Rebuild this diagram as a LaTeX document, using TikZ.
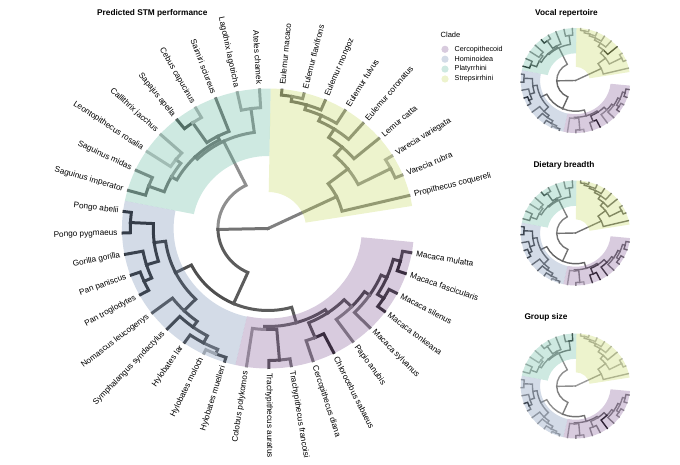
\documentclass[tikz,border=0pt]{standalone}
\usepackage{fontspec}
\setmainfont{Liberation Sans}

% legend keys (as they look over white)
\definecolor{cerco}{RGB}{216,203,222}
\definecolor{homin}{RGB}{211,219,231}
\definecolor{platy}{RGB}{206,233,225}
\definecolor{strep}{RGB}{237,243,205}
% highlight colours, laid over the branches
\definecolor{cercohl}{RGB}{125,82,145}
\definecolor{hominhl}{RGB}{108,135,175}
\definecolor{platyhl}{RGB}{92,182,155}
\definecolor{strephl}{RGB}{195,215,88}

\tikzset{
    branch/.style={line cap=rect, line join=miter},
    hilight/.style={fill opacity=0.3},
    tiplab/.style={font=\fontsize{8.2}{9}\selectfont, inner sep=1pt},
    paneltitle/.style={font=\fontsize{8.3}{10}\selectfont\bfseries, inner sep=0pt, anchor=base west},
    legtxt/.style={font=\fontsize{7.2}{8}\selectfont, inner sep=0.5pt, anchor=west},
    legdot/.style={circle, minimum size=7.2pt, inner sep=0pt}
}

% angle of a tip (or node) position
\newcommand{\tang}[1]{-10-8.85*(#1)}
% id, parent radius, parent position, radius, position
\newcommand{\brn}[5]{%
    \pgfmathtruncatemacro{\brpct}{100*\opv[#1]}%
    \draw[branch, draw=black!\brpct] ({\tang{#3}}:#2pt) arc[start angle={\tang{#3}}, end angle={\tang{#5}}, radius=#2pt] -- ({\tang{#5}}:#4pt);%
}
\newcommand{\rootbrn}[3]{%
    \pgfmathtruncatemacro{\brpct}{100*\opv[#1]}%
    \draw[branch, draw=black!\brpct] (0,0) -- ({\tang{#3}}:#2pt);%
}
\newcommand{\cladesector}[5]{%
    \fill[hilight, #1] ({\tang{#2}}:#4pt) arc[start angle={\tang{#2}}, end angle={\tang{#3}}, radius=#4pt]
        -- ({\tang{#3}}:#5pt) arc[start angle={\tang{#3}}, end angle={\tang{#2}}, radius=#5pt] -- cycle;%
}

% branch shading for each panel
\def\opmain{{0,%
0.5,0.5,0.5,0.45,0.35,0.45,0.5,0.5,0.55,0.5,0.55,0.5,0.55,0.55,0.6,0.65,0.5,%
0.55,0.45,0.45,0.35,0.35,0.5,0.5,0.55,0.6,0.5,0.4,0.25,0.3,0.55,0.55,0.7,0.3,0.55,%
0.65,0.7,0.75,0.75,0.7,0.6,0.75,0.3,0.75,0.8,0.7,0.8,0.85,0.85,0.85,0.85,0.85,0.9,0.9,0.9,%
0.65,0.7,0.7,0.75,0.75,0.8,0.75,0.9,0.8,0.8,0.85,0.55,0.5,0.7,0.9,0.55,0.6,0.65,0.55,0.7,0.4}}
\def\opvocal{{0,%
0.5,0.4,0.45,0.4,0.35,0.4,0.45,0.8,0.45,0.4,0.4,0.4,0.4,0.35,0.4,0.4,0.35,%
0.55,0.5,0.5,0.45,0.45,0.55,0.6,0.7,0.9,0.6,0.5,0.45,0.5,0.55,0.6,0.85,0.5,0.5,%
0.6,0.6,0.6,0.6,0.55,0.5,0.6,0.4,0.6,0.6,0.55,0.65,0.7,0.75,0.7,0.95,0.6,0.65,0.7,0.6,%
0.55,0.55,0.55,0.55,0.55,0.55,0.6,0.6,0.5,0.45,0.6,0.45,0.4,0.7,0.95,0.5,0.5,0.4,0.3,0.4,0.3}}
\def\opdiet{{0,%
0.55,0.6,0.6,0.6,0.55,0.6,0.6,0.6,0.6,0.55,0.6,0.6,0.6,0.55,0.6,0.6,0.55,%
0.55,0.5,0.5,0.45,0.5,0.5,0.5,0.5,0.55,0.5,0.45,0.4,0.45,0.55,0.6,0.75,0.5,0.5,%
0.55,0.6,0.6,0.6,0.6,0.55,0.6,0.45,0.6,0.65,0.6,0.65,0.7,0.75,0.8,0.8,0.7,0.75,0.85,0.8,%
0.6,0.65,0.65,0.6,0.6,0.55,0.55,0.6,0.55,0.6,0.6,0.55,0.8,0.8,0.95,0.85,0.55,0.5,0.3,0.45,0.35}}
\def\opgroup{{0,%
0.4,0.35,0.35,0.3,0.3,0.3,0.35,0.35,0.35,0.3,0.35,0.3,0.35,0.3,0.35,0.3,0.3,%
0.45,0.45,0.55,0.5,0.8,0.45,0.4,0.4,0.35,0.35,0.35,0.3,0.3,0.45,0.45,0.4,0.4,0.45,%
0.5,0.45,0.4,0.4,0.4,0.35,0.4,0.3,0.35,0.35,0.4,0.5,0.5,0.55,0.5,0.85,0.45,0.45,0.4,0.4,%
0.55,0.55,0.6,0.5,0.5,0.45,0.5,0.45,0.45,0.45,0.45,0.5,0.95,0.45,0.5,0.45,0.5,0.45,0.35,0.45,0.4}}

\newcommand{\primtree}{%
    % Strepsirrhini
    \rootbrn{1}{73}{36.63}
    \brn{2}{73}{36.63}{139}{38}
    \brn{3}{73}{36.63}{97}{35.27}
    \brn{4}{97}{35.27}{132}{36.5}
    \brn{5}{132}{36.5}{139}{36}
    \brn{6}{132}{36.5}{139}{37}
    \brn{7}{97}{35.27}{108}{34.03}
    \brn{8}{108}{34.03}{139}{35}
    \brn{9}{108}{34.03}{118}{33.06}
    \brn{10}{118}{33.06}{139}{34}
    \brn{11}{118}{33.06}{124}{32.125}
    \brn{12}{124}{32.125}{139}{33}
    \brn{13}{124}{32.125}{129}{31.25}
    \brn{14}{129}{31.25}{139}{32}
    \brn{15}{129}{31.25}{134}{30.5}
    \brn{16}{134}{30.5}{139}{30}
    \brn{17}{134}{30.5}{139}{31}
    % Platyrrhini
    \rootbrn{18}{48}{19.08}
    \brn{19}{48}{19.08}{97}{26.44}
    \brn{20}{97}{26.44}{121}{28.5}
    \brn{21}{121}{28.5}{139}{28}
    \brn{22}{121}{28.5}{139}{29}
    \brn{23}{97}{26.44}{100}{24.375}
    \brn{24}{100}{24.375}{106}{22.5}
    \brn{25}{106}{22.5}{122}{21.5}
    \brn{26}{122}{21.5}{139}{21}
    \brn{27}{122}{21.5}{139}{22}
    \brn{28}{106}{22.5}{112}{23.5}
    \brn{29}{112}{23.5}{139}{23}
    \brn{30}{112}{23.5}{139}{24}
    \brn{31}{100}{24.375}{104}{26.25}
    \brn{32}{104}{26.25}{128}{25.5}
    \brn{33}{128}{25.5}{139}{25}
    \brn{34}{128}{25.5}{139}{26}
    \brn{35}{104}{26.25}{139}{27}
    % Hominoidea
    \brn{36}{48}{19.08}{82}{11.72}
    \brn{37}{82}{11.72}{99}{16.22}
    \brn{38}{99}{16.22}{115}{14.06}
    \brn{39}{115}{14.06}{122}{13.125}
    \brn{40}{122}{13.125}{130}{12.25}
    \brn{41}{130}{12.25}{135}{11.5}
    \brn{42}{135}{11.5}{139}{11}
    \brn{43}{135}{11.5}{139}{12}
    \brn{44}{130}{12.25}{139}{13}
    \brn{45}{122}{13.125}{139}{14}
    \brn{46}{115}{14.06}{139}{15}
    \brn{47}{99}{16.22}{110}{18.375}
    \brn{48}{110}{18.375}{122}{17.25}
    \brn{49}{122}{17.25}{130}{16.5}
    \brn{50}{130}{16.5}{139}{16}
    \brn{51}{130}{16.5}{139}{17}
    \brn{52}{122}{17.25}{139}{18}
    \brn{53}{110}{18.375}{132}{19.5}
    \brn{54}{132}{19.5}{139}{19}
    \brn{55}{132}{19.5}{139}{20}
    % Cercopithecoid
    \brn{56}{82}{11.72}{98}{7.22}
    \brn{57}{98}{7.22}{102}{5.19}
    \brn{58}{102}{5.19}{112}{3.875}
    \brn{59}{112}{3.875}{118}{2.75}
    \brn{60}{118}{2.75}{124}{1.5}
    \brn{61}{124}{1.5}{131}{0.5}
    \brn{62}{131}{0.5}{139}{0}
    \brn{63}{131}{0.5}{139}{1}
    \brn{64}{124}{1.5}{131}{2.5}
    \brn{65}{131}{2.5}{139}{2}
    \brn{66}{131}{2.5}{139}{3}
    \brn{67}{118}{2.75}{139}{4}
    \brn{68}{112}{3.875}{139}{5}
    \brn{69}{102}{5.19}{118}{6.5}
    \brn{70}{118}{6.5}{139}{6}
    \brn{71}{118}{6.5}{139}{7}
    \brn{72}{98}{7.22}{101}{9.25}
    \brn{73}{101}{9.25}{132}{8.5}
    \brn{74}{132}{8.5}{139}{8}
    \brn{75}{132}{8.5}{139}{9}
    \brn{76}{101}{9.25}{139}{10}
    % clade highlights over the branches
    \cladesector{cercohl}{-0.5}{10.5}{90}{140}
    \cladesector{hominhl}{10.5}{20.5}{90.5}{140}
    \cladesector{platyhl}{20.5}{29.5}{72.5}{140}
    \cladesector{strephl}{29.5}{38.5}{36.5}{140}%
}

\begin{document}
\begin{tikzpicture}[x=1pt, y=1pt]
    \useasboundingbox (0,0) rectangle (680,-465);

    % main tree
    \node[paneltitle] (ttlstm) at (97,-15.5) {Predicted STM performance};
    \begin{scope}[shift={(268,-228.5)}, xscale=1.043, line width=3pt]
        \let\opv\opmain
        \primtree
        \foreach \i/\sp in {0/Macaca mulatta, 1/Macaca fascicularis, 2/Macaca silenus,
                3/Macaca tonkeana, 4/Macaca sylvanus, 5/Papio anubis, 6/Chlorocebus sabaeus,
                7/Cercopithecus diana, 8/Trachypithecus francoisi, 9/Trachypithecus auratus,
                10/Colobus polykomos, 11/Hylobates muelleri, 12/Hylobates moloch,
                13/Hylobates lar, 14/Symphalangus syndactylus, 15/Nomascus leucogenys,
                16/Pan troglodytes, 17/Pan paniscus, 18/Gorilla gorilla, 19/Pongo pygmaeus,
                20/Pongo abelii, 21/Saguinus imperator, 22/Saguinus midas,
                23/Leontopithecus rosalia, 24/Callithrix jacchus, 25/Sapajus apella,
                26/Cebus capucinus, 27/Saimiri sciureus, 28/Lagothrix lagotricha,
                29/Ateles chamek, 30/Eulemur macaco, 31/Eulemur flavifrons, 32/Eulemur mongoz,
                33/Eulemur fulvus, 34/Eulemur coronatus, 35/Lemur catta,
                36/Varecia variegata, 37/Varecia rubra, 38/Propithecus coquereli} {
            \pgfmathsetmacro{\a}{\tang{\i}}
            \ifnum\i>9 \ifnum\i<30 \def\anc{east}\def\flip{180}\else\def\anc{west}\def\flip{0}\fi
            \else \def\anc{west}\def\flip{0}\fi
            \node[tiplab, anchor=\anc, rotate=\a+\flip] (tip\i) at (\a:142pt) {\sp};
        }
    \end{scope}

    % legend
    \node[legtxt, font=\fontsize{7.5}{8}\selectfont] (cladettl) at (440,-34.5) {Clade};
    \foreach \c/\t [count=\k] in {cerco/Cercopithecoid, homin/Hominoidea, platy/Platyrrhini, strep/Strepsirrhini} {
        \node[legdot, fill=\c] (dot\k) at (445,{-39.4-9.9*\k}) {};
        \node[legtxt] (leg\k) at (454,{-39.4-9.9*\k}) {\t};
    }

    % small trees
    \node[paneltitle] (ttlvocal) at (535,-15.5) {Vocal repertoire};
    \begin{scope}[shift={(575.5,-80.5)}, scale=0.375, xscale=1.043, line width=1.4pt]
        \let\opv\opvocal
        \primtree
    \end{scope}

    \node[paneltitle] (ttldiet) at (533.3,-167.5) {Dietary breadth};
    \begin{scope}[shift={(575.5,-233)}, scale=0.375, xscale=1.043, line width=1.4pt]
        \let\opv\opdiet
        \primtree
    \end{scope}

    \node[paneltitle] (ttlgroup) at (524.3,-319) {Group size};
    \begin{scope}[shift={(575.5,-386)}, scale=0.375, xscale=1.043, line width=1.4pt]
        \let\opv\opgroup
        \primtree
    \end{scope}
\end{tikzpicture}
\end{document}
